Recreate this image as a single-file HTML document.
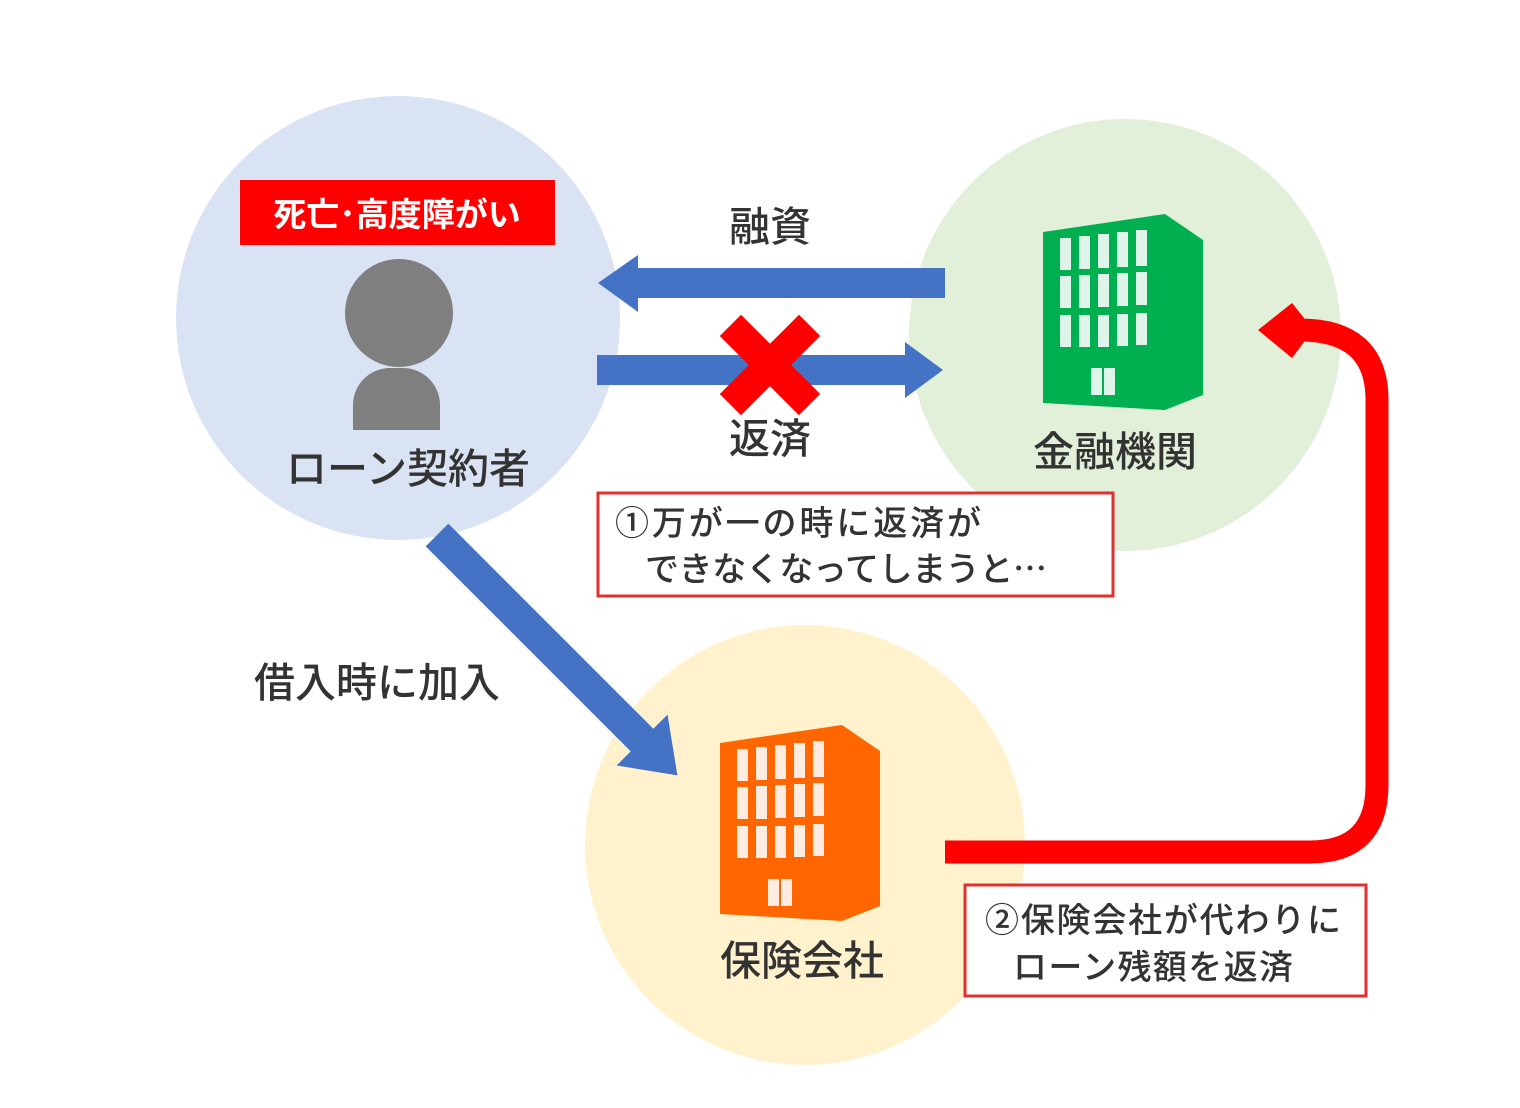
<!DOCTYPE html>
<html><head><meta charset="utf-8"><style>
body{margin:0;background:#fff}
svg{display:block}
text{font-family:"Liberation Sans","Noto Sans CJK JP",sans-serif;font-weight:500}
.j{font-family:"Noto Sans CJK JP",sans-serif}
</style></head><body>
<svg width="1520" height="1108" viewBox="0 0 1520 1108" xmlns="http://www.w3.org/2000/svg">
<defs>
<g id="bld">
<polygon points="1043,232 1165,214 1203,240 1203,395 1165,410 1043,403"/>
<g fill="#fff" opacity="0.88">
<rect x="1060" y="238" width="11" height="32"/><rect x="1079" y="236" width="11" height="33"/><rect x="1098" y="234" width="11" height="34"/><rect x="1117" y="232" width="11" height="35"/><rect x="1136" y="230" width="11" height="36"/>
<rect x="1060" y="276" width="11" height="32"/><rect x="1079" y="275" width="11" height="33"/><rect x="1098" y="274" width="11" height="33"/><rect x="1117" y="273" width="11" height="33"/><rect x="1136" y="272" width="11" height="33"/>
<rect x="1060" y="315" width="11" height="32"/><rect x="1079" y="315" width="11" height="32"/><rect x="1098" y="315" width="11" height="32"/><rect x="1117" y="314" width="11" height="32"/><rect x="1136" y="313" width="11" height="32"/>
<rect x="1091" y="368" width="11" height="27"/><rect x="1104" y="368" width="11" height="27"/>
</g>
</g>
</defs>
<circle cx="398" cy="318" r="222" fill="#dae3f3"/>
<circle cx="1125" cy="335" r="216" fill="#e2f0d9"/>
<circle cx="805" cy="845" r="220" fill="#fff2cc"/>

<circle cx="399" cy="313" r="54" fill="#7f7f7f"/>
<path d="M353,430 V405 A37,37 0 0 1 390,368 H403 A37,37 0 0 1 440,405 V430 Z" fill="#7f7f7f"/>

<rect x="240" y="180" width="315" height="65" fill="#ff0000"/>
<text x="397" y="226" font-size="33" font-weight="bold" fill="#fff" text-anchor="middle" style="font-weight:700">死亡･高度障がい</text>
<text x="408" y="483" font-size="41" fill="#333" text-anchor="middle">ローン契約者</text>

<polygon points="945,268 638,268 638,255 598,283 638,312 638,298 945,298" fill="#4472c4"/>
<polygon points="597,355 905,355 905,342 943,370 905,398 905,385 597,385" fill="#4472c4"/>
<g transform="translate(770,365) rotate(45)" fill="#ff0000">
<rect x="-56" y="-15" width="112" height="30"/><rect x="-15" y="-56" width="30" height="112"/>
</g>
<text x="770" y="241" font-size="41" fill="#333" text-anchor="middle">融資</text>
<text x="770" y="453" font-size="41" fill="#333" text-anchor="middle">返済</text>

<use href="#bld" fill="#00b050"/>
<text x="1115" y="466" font-size="41" fill="#333" text-anchor="middle">金融機関</text>

<rect x="598" y="493" width="515" height="103" fill="#fff" stroke="#e03030" stroke-width="3"/>
<text x="615" y="535" font-size="34" fill="#333" class="j" textLength="366">①万が一の時に返済が</text>
<text x="645" y="581" font-size="34" fill="#333" class="j" textLength="402">できなくなってしまうと…</text>

<g transform="translate(437,535) rotate(45)">
<polygon points="0,-16 290,-16 290,-36 340,0 290,36 290,16 0,16" fill="#4472c4"/>
</g>
<text x="377" y="697" font-size="41" fill="#333" text-anchor="middle">借入時に加入</text>

<g transform="translate(-323,511)"><use href="#bld" fill="#ff6600"/></g>
<text x="802" y="975" font-size="41" fill="#333" text-anchor="middle">保険会社</text>

<path d="M945,852 H1310 Q1377,852 1377,785 V400 Q1377,330 1300,330" fill="none" stroke="#ff0000" stroke-width="23"/>
<polygon points="1258,330 1292,303 1304,318 1304,342 1292,358" fill="#ff0000"/>

<rect x="965" y="885" width="401" height="111" fill="#fff" stroke="#e03030" stroke-width="3"/>
<text x="985" y="932" font-size="34" fill="#333" class="j" textLength="356">②保険会社が代わりに</text>
<text x="1013" y="979" font-size="34" fill="#333" class="j" textLength="280">ローン残額を返済</text>
</svg>
</body></html>
